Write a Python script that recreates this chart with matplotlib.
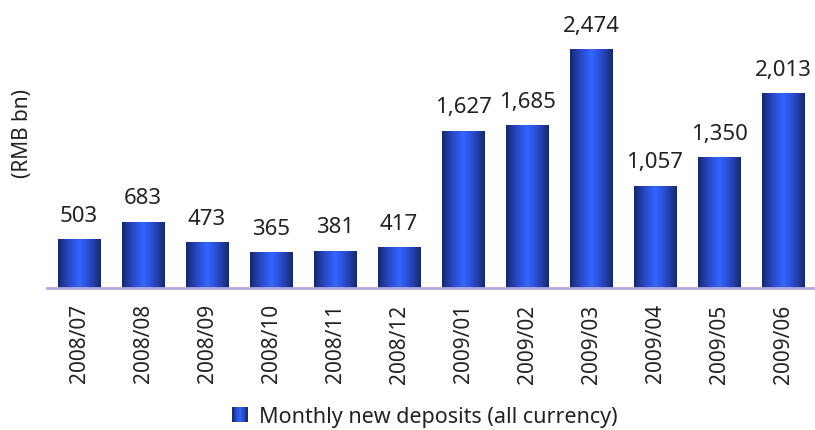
import numpy as np
import matplotlib
matplotlib.use("Agg")
import matplotlib.pyplot as plt
from matplotlib.colors import LinearSegmentedColormap
from matplotlib.legend_handler import HandlerBase
from matplotlib.patches import Rectangle

months = ["2008/07", "2008/08", "2008/09", "2008/10", "2008/11", "2008/12",
          "2009/01", "2009/02", "2009/03", "2009/04", "2009/05", "2009/06"]
deposits = [503, 683, 473, 365, 381, 417, 1627, 1685, 2474, 1057, 1350, 2013]
series_name = "Monthly new deposits (all currency)"

plt.rcParams["font.family"] = ["Noto Sans", "DejaVu Sans"]
text_color = "#222222"

# dark edges, bright blue centre
bar_cmap = LinearSegmentedColormap.from_list(
    "tube", ["#16286a", "#2848c8", "#3366ff", "#2848c8", "#16286a"])


class GradientHandler(HandlerBase):
    """Legend key drawn as thin vertical strips of the bar gradient."""

    def create_artists(self, legend, orig_handle, xdescent, ydescent,
                       width, height, fontsize, trans):
        size = height * 1.0
        x0 = -xdescent + (width - size) / 2
        y0 = -ydescent + (height - size) / 2
        n = 12
        arts = []
        for i in range(n):
            r = Rectangle((x0 + i * size / n, y0), size / n + 0.2, size,
                          facecolor=bar_cmap((i + 0.5) / n),
                          edgecolor="none", transform=trans)
            arts.append(r)
        return arts


def main():
    fig = plt.figure(figsize=(8.15, 4.31), dpi=100)
    ax = fig.add_axes([47 / 815, 1 - 289 / 431, 1 - 47 / 815, 281 / 431])

    x = np.arange(len(months))
    bars = ax.bar(x, deposits, width=0.67, color="none", edgecolor="none")
    grad = np.linspace(0, 1, 256).reshape(1, -1)
    for b in bars:
        x0, y0 = b.get_x(), b.get_y()
        ax.imshow(grad, cmap=bar_cmap, aspect="auto", interpolation="bilinear",
                  extent=(x0, x0 + b.get_width(), y0, y0 + b.get_height()),
                  zorder=2)
        ax.annotate(f"{b.get_height():,.0f}",
                    (x0 + b.get_width() / 2, b.get_height()),
                    xytext=(0, 10), textcoords="offset points",
                    ha="center", va="bottom", fontsize=16, color=text_color)

    ax.set_xlim(-0.5, len(months) - 0.5)
    ax.set_ylim(0, 2915)
    ax.set_xticks(x)
    ax.set_xticklabels(months, rotation=90, fontsize=15, color=text_color)
    ax.tick_params(axis="x", length=0, pad=11)
    ax.set_yticks([])
    for side in ["top", "right", "left"]:
        ax.spines[side].set_visible(False)
    ax.spines["bottom"].set_color("#b4a8e0")
    ax.spines["bottom"].set_linewidth(2)
    ax.spines["bottom"].set_zorder(3)

    fig.text(0.028, 0.69, "(RMB bn)", rotation=90, ha="center", va="center",
             fontsize=15, color=text_color)

    proxy = Rectangle((0, 0), 1, 1)
    fig.legend([proxy], [series_name], handler_map={Rectangle: GradientHandler()},
               loc="center", bbox_to_anchor=(0.521, 0.032), frameon=False,
               fontsize=15.5, handlelength=0.8, handletextpad=0.5,
               labelcolor=text_color, borderpad=0)

    fig.savefig("out.png", dpi=100)


if __name__ == "__main__":
    main()
